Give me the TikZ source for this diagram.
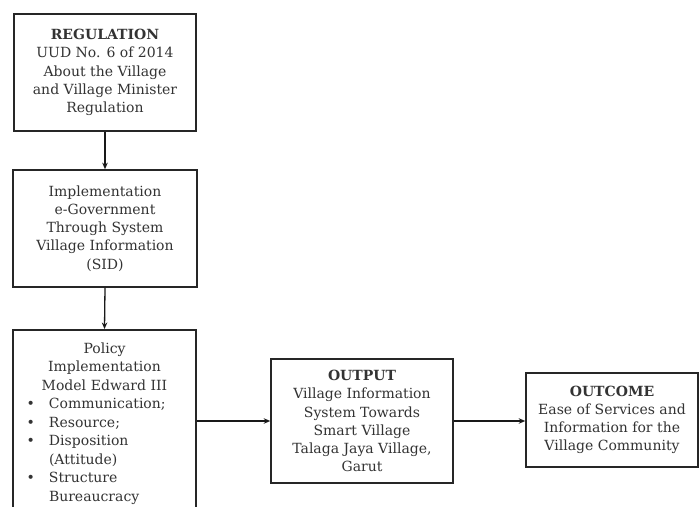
\documentclass[tikz,border=0pt]{standalone}
\usepackage{fontspec}
\setmainfont{DejaVu Serif}
\usetikzlibrary{arrows.meta}
\newcommand{\bitem}[1]{\par\noindent\hangindent=30.5pt\hangafter=1\hspace*{8pt}\makebox[22.5pt][l]{\textbullet}#1\par}
\tikzset{
  box/.style={draw=black!85, line width=1.6pt, fill=white, align=center, inner sep=2pt,
    text=black!80, font=\fontsize{14}{18.2}\selectfont},
  arr/.style={line width=1.3pt, draw=black!90, -{Stealth[length=6.5pt,width=5.5pt]}}
}
\begin{document}
\begin{tikzpicture}[x=1pt,y=-1pt]
\useasboundingbox (0,0) rectangle (700,506);
\clip (0,0) rectangle (700,506);
\fill[white] (0,0) rectangle (700,506);
\node[box, minimum width=182pt, minimum height=117pt] (b1) at (105,72.5)
  {\textbf{REGULATION}\\UUD No. 6 of 2014\\About the Village\\and Village Minister\\Regulation};
\node[box, minimum width=184pt, minimum height=117pt] (b2) at (105,228.5)
  {Implementation\\e-Government\\Through System\\Village Information\\(SID)};
\node[box, anchor=north, minimum width=183pt, text width=172pt, inner ysep=13pt,
      font=\fontsize{14}{18.5}\selectfont] (b3) at (104.5,329)
  {{\centering Policy\\Implementation\\Model Edward III\par}\raggedright
   \bitem{Communication;}\bitem{Resource;}\bitem{Disposition\newline(Attitude)}\bitem{Structure\newline Bureaucracy}\vspace*{30pt}};
\node[box, minimum width=182pt, minimum height=124pt] (b4) at (362,421)
  {\textbf{OUTPUT}\\Village Information\\System Towards\\Smart Village\\Talaga Jaya Village,\\Garut};
\node[box, minimum width=172pt, minimum height=94pt] (b5) at (612,420)
  {\textbf{OUTCOME}\\Ease of Services and\\Information for the\\Village Community};
\draw[arr] (b1.south) -- (b2.north);
\draw[arr] (b2.south) -- (b3.north);
\draw[arr] (b4.west -| b3.east) -- (b4.west);
\draw[arr] (b4.east) -- (b4.east -| b5.west);
\end{tikzpicture}
\end{document}
